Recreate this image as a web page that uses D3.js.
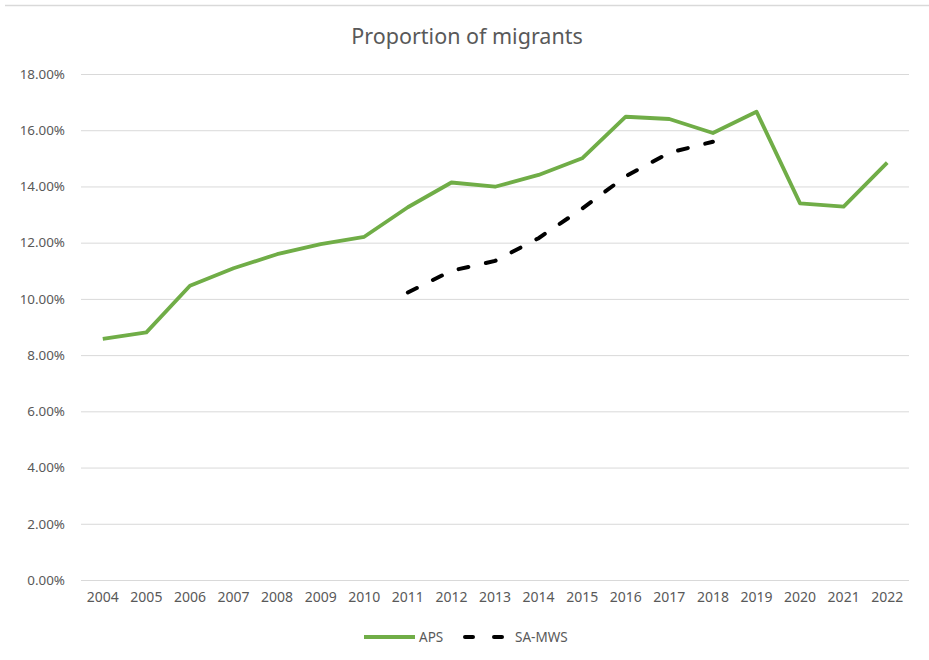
<!DOCTYPE html>
<html>
<head>
<meta charset="utf-8">
<script src="https://cdn.jsdelivr.net/npm/d3@7"></script>
<style>
  html, body { margin: 0; padding: 0; background: #fff; }
  #chart { width: 929px; height: 660px; }
  text { font-family: "Noto Sans", "Open Sans", sans-serif; fill: #595959; }
</style>
</head>
<body>
<div id="chart"></div>
<script>
// chart values
const years = ["2004", "2005", "2006", "2007", "2008", "2009", "2010", "2011", "2012", "2013",
    "2014", "2015", "2016", "2017", "2018", "2019", "2020", "2021", "2022"];
const apsValues = [0.0858, 0.0881, 0.1047, 0.1109, 0.1159, 0.1195, 0.1221, 0.1326, 0.1414, 0.1399,
    0.1441, 0.1500, 0.1648, 0.1640, 0.1590, 0.1666, 0.1340, 0.1328, 0.1485];
const saMwsYears = ["2011", "2012", "2013", "2014", "2015", "2016", "2017", "2018"];
const saMwsValues = [0.1023, 0.1100, 0.1135, 0.1216, 0.1321, 0.1436, 0.1520, 0.1559];
const yTicks = [0, 0.02, 0.04, 0.06, 0.08, 0.10, 0.12, 0.14, 0.16, 0.18];

const width = 929;
const height = 660;
const margin = { top: 74, right: 20, bottom: 80, left: 81 };

const svg = d3.create("svg")
    .attr("width", width)
    .attr("height", height)
    .attr("viewBox", [0, 0, width, height]);

// thin frame line across the top
svg.append("line")
    .attr("x1", 5).attr("x2", width)
    .attr("y1", 5.5).attr("y2", 5.5)
    .attr("stroke", "#d9d9d9")
    .attr("stroke-width", 1.5);

const x = d3.scaleBand()
    .domain(years)
    .range([margin.left, width - margin.right]);

const y = d3.scaleLinear()
    .domain([0, 0.18])
    .range([height - margin.bottom, margin.top]);

// gridlines + y labels
const yAxis = d3.axisLeft(y)
    .tickValues(yTicks)
    .tickFormat(d3.format(".2%"))
    .tickSize(-(width - margin.right - margin.left))
    .tickPadding(16);

svg.append("g")
    .attr("transform", `translate(${margin.left},0)`)
    .call(yAxis)
    .call(g => g.select(".domain").remove())
    .call(g => g.selectAll(".tick line").attr("stroke", "#d9d9d9").attr("stroke-width", 1))
    .call(g => g.selectAll(".tick text")
        .attr("fill", "#595959")
        .style("font-size", "13.4px"));

// x labels
svg.append("g")
    .attr("transform", `translate(0,${height - margin.bottom})`)
    .call(d3.axisBottom(x).tickSize(0).tickPadding(12))
    .call(g => g.select(".domain").remove())
    .call(g => g.selectAll(".tick text")
        .attr("fill", "#595959")
        .style("font-size", "14px"));

const cx = d => x(d) + x.bandwidth() / 2;

const line = d3.line()
    .x(d => cx(d[0]))
    .y(d => y(d[1]));

svg.append("path")
    .datum(d3.zip(years, apsValues))
    .attr("fill", "none")
    .attr("stroke", "#70ad47")
    .attr("stroke-width", 3.8)
    .attr("stroke-linejoin", "round")
    .attr("d", line);

svg.append("path")
    .datum(d3.zip(saMwsYears, saMwsValues))
    .attr("fill", "none")
    .attr("stroke", "#000")
    .attr("stroke-width", 4)
    .attr("stroke-linecap", "round")
    .attr("stroke-dasharray", "10,18")
    .attr("d", line);

// title
svg.append("text")
    .attr("x", 467)
    .attr("y", 44)
    .attr("text-anchor", "middle")
    .style("font-size", "21.5px")
    .text("Proportion of migrants");

// legend
const legend = svg.append("g").attr("transform", "translate(0,637)");

legend.append("line")
    .attr("x1", 364).attr("x2", 415)
    .attr("stroke", "#70ad47")
    .attr("stroke-width", 3.8);
legend.append("text")
    .attr("x", 419).attr("dy", "0.35em")
    .style("font-size", "13.5px")
    .text("APS");

legend.append("line")
    .attr("x1", 465).attr("x2", 505)
    .attr("stroke", "#000")
    .attr("stroke-width", 4)
    .attr("stroke-linecap", "round")
    .attr("stroke-dasharray", "8,21");
legend.append("text")
    .attr("x", 515).attr("dy", "0.35em")
    .style("font-size", "13.5px")
    .text("SA-MWS");

document.getElementById("chart").appendChild(svg.node());
</script>
</body>
</html>
